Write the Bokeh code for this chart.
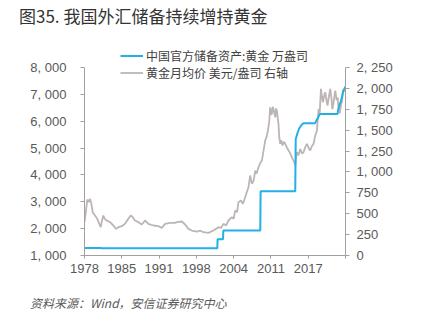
from bokeh.plotting import figure
from bokeh.models import Range1d, LinearAxis, FixedTicker, Legend, LegendItem, Div
from bokeh.layouts import column
from bokeh.embed import file_html
from bokeh.resources import INLINE

title_text = "图35. 我国外汇储备持续增持黄金"
source_text = "资料来源：Wind，安信证券研究中心"
series_names = ["中国官方储备资产:黄金 万盎司", "黄金月均价 美元/盎司 右轴"]

x_ticks = [1978, 1984.5, 1991, 1997.5, 2004, 2010.5, 2017, 2023.5]
x_labels = ["1978", "1985", "1991", "1998", "2004", "2011", "2017", ""]
left_ticks = [1000, 2000, 3000, 4000, 5000, 6000, 7000, 8000]
right_ticks = [0, 250, 500, 750, 1000, 1250, 1500, 1750, 2000, 2250]

# China official gold reserves (万盎司)
reserve_year = [1978.0, 1980.88, 1980.95, 2001.15, 2001.2, 2002.15, 2002.2, 2008.64, 2008.7,
                2014.74, 2014.82, 2014.9, 2014.99, 2015.07, 2015.15, 2015.24, 2015.32,
                2015.4, 2015.49, 2015.57, 2015.65, 2015.74, 2015.82, 2016.15, 2018.18,
                2018.26, 2018.35, 2018.43, 2018.51, 2018.6, 2018.68, 2018.76, 2018.85,
                2018.93, 2019.01, 2022.1, 2022.18, 2022.26, 2022.35, 2022.43, 2022.51,
                2022.6, 2022.68, 2022.76, 2022.85, 2022.93, 2023.01, 2023.1, 2023.18,
                2023.26, 2023.35, 2023.43, 2023.5]
reserve_value = [1280, 1280, 1267, 1267, 1608, 1608, 1929, 1929, 3389,
                 3389, 5331, 5393, 5452, 5509, 5576, 5619, 5666,
                 5718, 5749, 5779, 5806, 5823, 5862, 5924, 5924,
                 5956, 5994, 6026, 6062, 6092, 6111, 6161, 6194,
                 6226, 6264, 6264, 6367, 6464, 6512, 6592, 6650,
                 6676, 6727, 6795, 6869, 6962, 7046, 7120, 7158,
                 7187, 7219, 7258, 7274]

# Gold monthly average price (USD/oz, right axis)
gold_year = [1978.0, 1978.26, 1978.49, 1978.73, 1978.96, 1979.19, 1979.43, 1979.83, 1980.23,
             1980.58, 1980.83, 1981.05, 1981.28, 1981.53, 1981.87, 1982.45, 1983.03, 1983.5,
             1983.9, 1984.49, 1985.07, 1985.64, 1986.06, 1986.41, 1986.81, 1987.39, 1987.98,
             1988.56, 1989.13, 1990.01, 1990.88, 1991.47, 1992.05, 1992.92, 1993.79, 1994.09,
             1994.96, 1995.54, 1996.12, 1996.71, 1997.58, 1998.16, 1998.73, 1999.61, 2000.48,
             2001.35, 2001.8, 2002.22, 2002.7, 2003.1, 2003.69, 2004.0, 2004.27, 2004.6, 2004.84,
             2005.26, 2005.61, 2006.01, 2006.3, 2006.59, 2006.88, 2007.18, 2007.5, 2007.76,
             2008.0, 2008.33, 2008.6, 2008.92, 2009.2, 2009.5, 2009.75, 2009.97, 2010.2, 2010.37,
             2010.52, 2010.67, 2010.8, 2010.95, 2011.1, 2011.25, 2011.4, 2011.54, 2011.68, 2011.82,
             2011.95, 2012.12, 2012.3, 2012.52, 2012.75, 2012.99, 2013.3, 2013.57, 2013.8, 2014.04,
             2014.25, 2014.44, 2014.6, 2014.74, 2014.9, 2015.03, 2015.3, 2015.61, 2015.9, 2016.18,
             2016.5, 2016.78, 2017.05, 2017.35, 2017.65, 2017.93, 2018.23, 2018.52, 2018.8,
             2019.0, 2019.22, 2019.4, 2019.57, 2019.8, 2019.97, 2020.2, 2020.37, 2020.6, 2020.84,
             2021.05, 2021.2, 2021.4, 2021.55, 2021.72, 2021.95, 2022.12, 2022.3, 2022.5,
             2022.7, 2022.89, 2023.05, 2023.17, 2023.35, 2023.5]
gold_price = [400, 538, 670, 638, 678, 622, 518, 478, 439,
              379, 339, 419, 478, 439, 419, 399, 359, 319,
              339, 351, 379, 439, 478, 459, 419, 399, 371,
              419, 379, 359, 351, 331, 379, 391, 391, 399,
              407, 371, 319, 299, 287, 299, 279, 271, 299,
              339, 330, 379, 360, 419, 459, 440, 538, 520, 638,
              658, 618, 698, 760, 817, 957, 858, 900, 1017,
              980, 1056, 1100, 1136, 1250, 1376, 1420, 1495, 1600, 1774,
              1690, 1694, 1780, 1754, 1700, 1654, 1760, 1734, 1650, 1575,
              1420, 1336, 1380, 1316, 1360, 1336, 1290, 1256, 1230, 1196,
              1160, 1136, 1110, 1077, 1180, 1236, 1200, 1276, 1220, 1236,
              1300, 1336, 1290, 1256, 1310, 1336, 1436, 1495, 1754,
              1700, 1994, 1900, 1834, 1920, 1954, 1850, 1794, 1900, 1994,
              1880, 1750, 1820, 1900, 1974, 1860, 1894, 1760, 1700,
              1800, 1850, 1934, 1994, 1960, 2030]

fmt = lambda v: f"{v:,}".replace(",", ", ")
NUM_FONT = "Liberation Sans"
CJK_FONT = "Noto Sans CJK SC"
AXIS_GRAY = "#A0A0A0"
LABEL_GRAY = "#595959"

W = 447
TITLE_H, RULE_H, MAIN_H, SRC_H = 36, 2, 252, 32
PLOT_TOP_PAD = 29        # px between frame top and the top tick
PLOT_SPAN = 188          # px between bottom and top tick
RULE_LEFT, RULE_W = 18, 417
RULE_COLOR = "#1a1a1a"

white = {"background-color": "#ffffff"}


def rule():
    r = figure(width=RULE_W, height=RULE_H, margin=(0, 0, 0, RULE_LEFT),
               x_axis_type=None, y_axis_type=None, toolbar_location=None,
               output_backend="svg", min_border=0, outline_line_color=None,
               background_fill_color=RULE_COLOR, border_fill_color=RULE_COLOR)
    r.grid.visible = False
    return r


# ---- title (HTML text) ----
title_div = Div(width=W, height=TITLE_H, margin=0, styles=white, text=(
    f'<div style="padding:4px 0 0 19px;font-family:Noto Sans CJK SC,sans-serif;'
    f'font-size:17px;line-height:24px;color:#333333;white-space:nowrap;">{title_text}</div>'))

# ---- main chart ----
l0, l1 = left_ticks[0], left_ticks[-1]
r0, r1 = right_ticks[0], right_ticks[-1]
p = figure(width=W, height=MAIN_H, x_range=Range1d(x_ticks[0], x_ticks[-1]),
           y_range=Range1d(l0, l1 + (l1 - l0) * PLOT_TOP_PAD / PLOT_SPAN),
           output_backend="svg", toolbar_location=None,
           min_border_left=84, min_border_right=102, min_border_top=0, min_border_bottom=35,
           outline_line_color=None)
p.xgrid.visible = False
p.ygrid.visible = False
p.extra_y_ranges = {"gold": Range1d(r0, r1 + (r1 - r0) * PLOT_TOP_PAD / PLOT_SPAN)}

gray = p.line(gold_year, gold_price, y_range_name="gold", line_color="#BDB5B5", line_width=1.8)
blue = p.line(reserve_year, reserve_value, line_color="#22B0E6", line_width=2)

xa = p.xaxis[0]
xa.ticker = FixedTicker(ticks=x_ticks)
xa.major_label_overrides = {t: l for t, l in zip(x_ticks, x_labels)}
ya = p.yaxis[0]
ya.ticker = FixedTicker(ticks=left_ticks)
ya.bounds = (l0, l1)
ya.major_label_overrides = {t: fmt(t) for t in left_ticks}

ra = LinearAxis(y_range_name="gold", ticker=FixedTicker(ticks=right_ticks), bounds=(r0, r1))
ra.major_label_overrides = {t: fmt(t) for t in right_ticks}
p.add_layout(ra, "right")

for ax, tick_out, standoff in ((xa, 3, 5), (ya, 4, 14), (ra, 4, 7)):
    ax.axis_line_color = AXIS_GRAY
    ax.major_tick_line_color = AXIS_GRAY
    ax.major_tick_out = tick_out
    ax.major_tick_in = 0
    ax.minor_tick_line_color = None
    ax.major_label_standoff = standoff
    ax.major_label_text_font = NUM_FONT
    ax.major_label_text_font_size = "13px"
    ax.major_label_text_color = LABEL_GRAY

legend = Legend(items=[LegendItem(label=series_names[0], renderers=[blue]),
                       LegendItem(label=series_names[1], renderers=[gray])],
                location=(36, 174.5), orientation="vertical",
                background_fill_alpha=0, border_line_color=None,
                padding=0, margin=0, spacing=0, label_height=17, glyph_height=17,
                glyph_width=23, label_standoff=3,
                label_text_font=CJK_FONT, label_text_font_size="12px",
                label_text_color="#404040")
p.add_layout(legend)

# ---- source (HTML text) ----
src_div = Div(width=W, height=SRC_H, margin=0, styles=white, text=(
    f'<div style="padding:3px 0 0 30px;font-family:Noto Sans CJK SC,sans-serif;font-size:12px;'
    f'line-height:16px;font-style:italic;color:{LABEL_GRAY};white-space:nowrap;">'
    f'{source_text}</div>'))

layout = column(title_div, rule(), p, rule(), src_div, spacing=0)
open("out.html", "w").write(file_html(layout, INLINE))
